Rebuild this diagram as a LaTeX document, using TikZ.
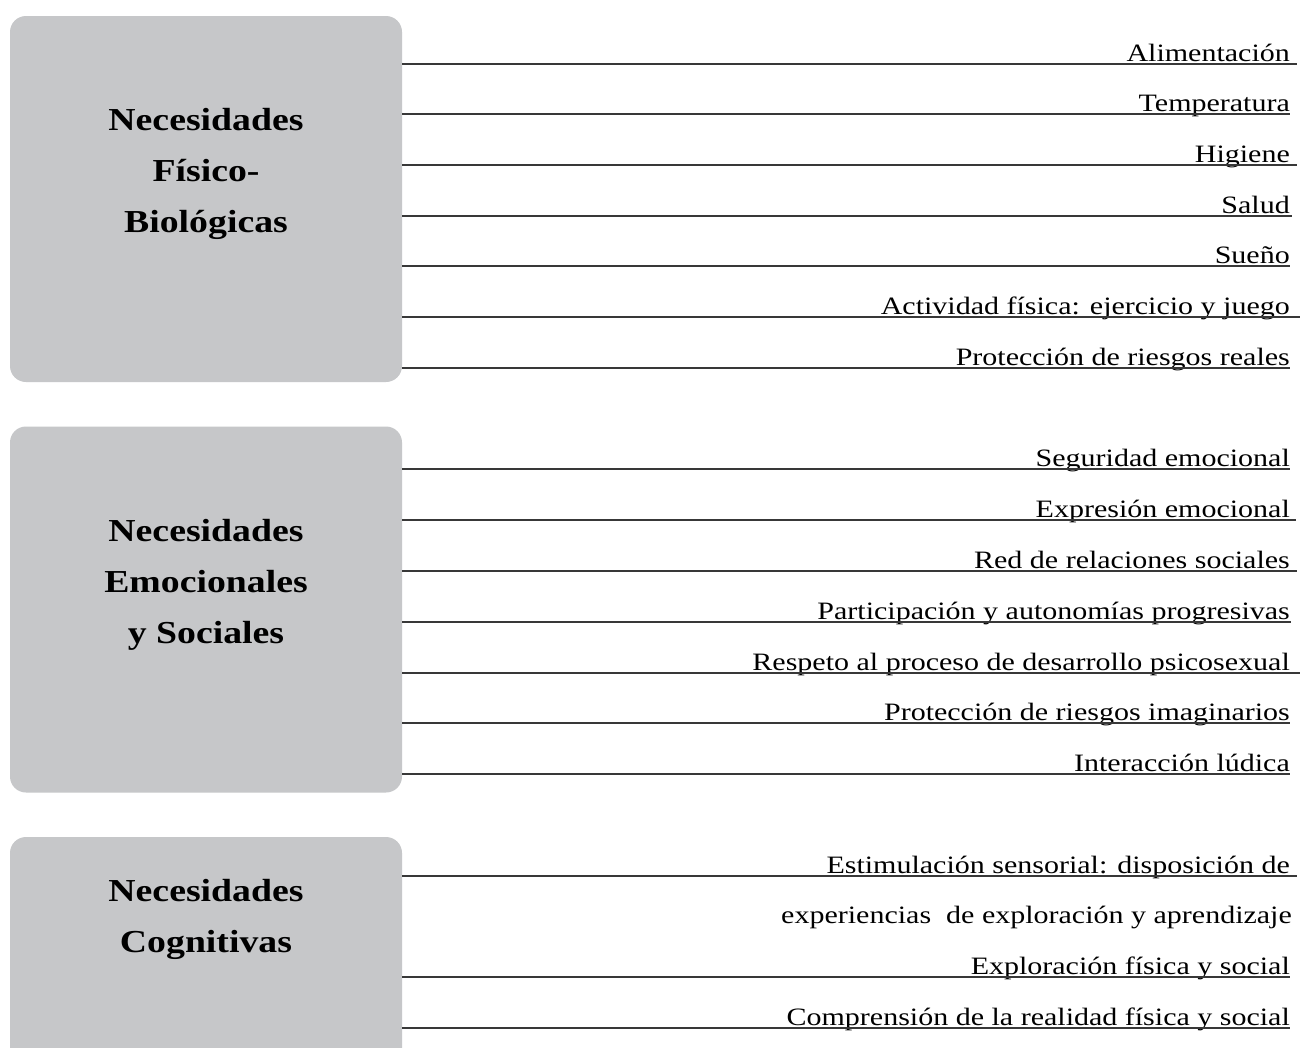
\documentclass[tikz,border=0pt]{standalone}
\usepackage{fontspec}
\setmainfont{Liberation Serif}
\newfontfamily\itemfont[FakeStretch=1.2]{Liberation Serif}
\newfontfamily\headfont[FakeStretch=1.18]{Liberation Serif}
\usetikzlibrary{calc}
\definecolor{boxgray}{HTML}{C6C7C9}
\tikzset{
  needbox/.style={draw=none, fill=boxgray, rounded corners=16pt, minimum width=392pt, minimum height=366pt, inner sep=0pt},
  headtxt/.style={font=\headfont\bfseries\fontsize{32}{51}\selectfont, align=center, anchor=base, inner sep=0pt},
  itemtxt/.style={font=\itemfont\fontsize{25}{30}\selectfont, anchor=base east, inner sep=0pt},
  uline/.style={draw=black!78, line width=1.1pt}
}
\begin{document}
\begin{tikzpicture}[x=1pt,y=-1pt]
\useasboundingbox (0,0) rectangle (1300,1047);
\clip (0,0) rectangle (1300,1047);
\fill[white] (0,0) rectangle (1300,1047);
% boxes
\node[needbox] (bf) at (206,199) {};
\node[needbox] (be) at (206,609.5) {};
\node[needbox] (bc) at (206,1020) {};
% headers (anchor base = last line baseline)
\node[headtxt] (hf) at (206,232) {Necesidades\\Físico-\\Biológicas};
\node[headtxt] (he) at (206,643) {Necesidades\\Emocionales\\y Sociales};
\node[headtxt] (hc) at (206,952) {Necesidades\\Cognitivas};
% group 1
\foreach \i/\y/\e/\t in {1/64/7/Alimentación, 2/114/0/Temperatura, 3/165/7/Higiene, 4/216/2/Salud, 5/266/0/Sueño, 6/317/10/Actividad física: ejercicio y juego, 7/368/0/Protección de riesgos reales}{
  \node[itemtxt] (f\i) at (1290,\y-3) {\t};
  \draw[uline] ($(bf.east |- f\i.base)+(0,3)$) -- ($(f\i.base east)+(\e,3)$);
}
% group 2
\foreach \i/\y/\e/\t in {1/469/0/Seguridad emocional, 2/520/6/Expresión emocional, 3/571/7/Red de relaciones sociales, 4/622/1/Participación y autonomías progresivas, 5/673/10/Respeto al proceso de desarrollo psicosexual, 6/723/0/Protección de riesgos imaginarios, 7/774/0/Interacción lúdica}{
  \node[itemtxt] (e\i) at (1290,\y-3) {\t};
  \draw[uline] ($(be.east |- e\i.base)+(0,3)$) -- ($(e\i.base east)+(\e,3)$);
}
% group 3
\node[itemtxt] (c1) at (1290,873) {Estimulación sensorial: disposición de};
\draw[uline] ($(bc.east |- c1.base)+(0,3)$) -- ($(c1.base east)+(7,3)$);
\node[itemtxt] (c1b) at (1292,923) {experiencias\ \ de exploración y aprendizaje};
\node[itemtxt] (c2) at (1290,974) {Exploración física y social};
\draw[uline] ($(bc.east |- c2.base)+(0,3)$) -- ($(c2.base east)+(0,3)$);
\node[itemtxt] (c3) at (1290,1025) {Comprensión de la realidad física y social};
\draw[uline] ($(bc.east |- c3.base)+(0,3)$) -- ($(c3.base east)+(0,3)$);
\end{tikzpicture}
\end{document}
